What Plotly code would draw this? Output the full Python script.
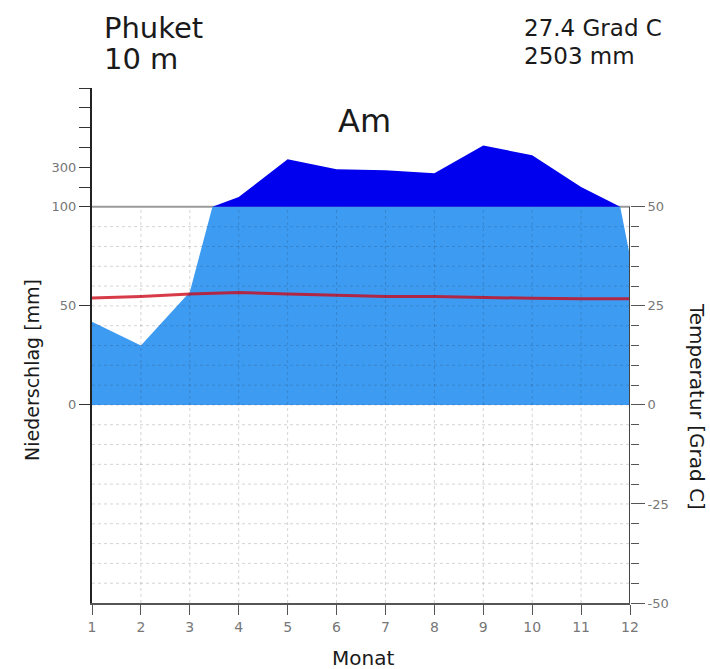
import plotly.graph_objects as go

# ---- data ----
months = [1, 2, 3, 4, 5, 6, 7, 8, 9, 10, 11, 12]
precip_mm = [42, 30, 57, 150, 340, 290, 285, 270, 410, 360, 200, 75]
temp_c = [27.0, 27.4, 28.0, 28.4, 28.0, 27.7, 27.4, 27.4, 27.1, 26.9, 26.8, 26.8]
station = "Phuket"
elevation = "10 m"
mean_temp_label = "27.4 Grad C"
total_precip_label = "2503 mm"
climate_class = "Am"
left_tick_mm = [0, 50, 100, 200, 300, 400, 500, 600, 700]
left_tick_text = ["0", "50", "100", "", "300", "", "", "", ""]
right_tick_c = [-50, -25, 0, 25, 50]
right_tick_text = ["-50", "-25", "0", "25", "50"]

FONT = "DejaVu Sans"
W, H = 710, 669
L, R, T, B = 92, 80, 88, 66


def disp(p):
    """Walter-Lieth scale: linear to 100 mm, compressed 1:10 above."""
    return p if p <= 100 else 100 + (p - 100) / 10.0


# precipitation outline: insert exact 100 mm crossings so both scale parts stay linear
xs, ps = [months[0]], [precip_mm[0]]
for i in range(len(months) - 1):
    x0, x1, p0, p1 = months[i], months[i + 1], precip_mm[i], precip_mm[i + 1]
    if (p0 - 100) * (p1 - 100) < 0:
        f = (100 - p0) / (p1 - p0)
        xs.append(x0 + f * (x1 - x0))
        ps.append(100)
    xs.append(x1)
    ps.append(p1)
ds = [disp(p) for p in ps]
light = [min(d, 100) for d in ds]
dark = [max(d, 100) for d in ds]

fig = go.Figure()
fig.add_trace(go.Scatter(x=xs, y=light, mode="lines", line=dict(width=0),
                         fill="tozeroy", fillcolor="#3d9cf2", hoverinfo="skip"))
fig.add_trace(go.Scatter(x=xs, y=[100] * len(xs), mode="lines", line=dict(width=0),
                         hoverinfo="skip"))
fig.add_trace(go.Scatter(x=xs, y=dark, mode="lines", line=dict(width=0),
                         fill="tonexty", fillcolor="#0000ee", hoverinfo="skip"))
fig.add_trace(go.Scatter(x=months, y=temp_c, mode="lines", yaxis="y2",
                         line=dict(color="rgba(205,10,25,0.8)", width=3)))

shapes = []
GRID = "rgba(40,40,60,0.2)"
# dotted grid (below the 100 mm line only)
for c in range(-45, 50, 5):
    shapes.append(dict(type="line", xref="x", yref="y2", x0=1, x1=12, y0=c, y1=c,
                       line=dict(color=GRID, width=1, dash="dot"), layer="above"))
for m in months[1:-1]:
    shapes.append(dict(type="line", xref="x", yref="y2", x0=m, x1=m, y0=-50, y1=50,
                       line=dict(color=GRID, width=1, dash="dot"), layer="above"))
# 100 mm line
shapes.append(dict(type="line", xref="x", yref="y", x0=1, x1=12, y0=100, y1=100,
                   line=dict(color="#9a9a9a", width=2), layer="below"))
# right axis line
shapes.append(dict(type="line", xref="x", yref="y2", x0=12, x1=12, y0=-50, y1=50,
                   line=dict(color="#444", width=2), layer="above"))


def pxx(x):
    return (x - L) / (W - L - R)


def pyy(y):
    return (H - B - y) / (H - T - B)


ann = []


def txt(s, x, y, size, xanchor="left", angle=0):
    ann.append(dict(text=s, x=pxx(x), y=pyy(y), xref="paper", yref="paper",
                    xanchor=xanchor, yanchor="middle", showarrow=False,
                    textangle=angle, font=dict(family=FONT, size=size, color="#1a1a1a")))


txt(station, 102, 28, 29)
txt(elevation, 102, 59, 29)
txt(mean_temp_label, 522, 28, 23)
txt(total_precip_label, 522, 56, 23)
txt(climate_class, 364, 121, 32, xanchor="center")
txt("Monat", 363, 658, 20, xanchor="center")
txt("Niederschlag [mm]", 32, 370, 19, xanchor="center", angle=-90)
txt("Temperatur [Grad C]", 697, 406, 20, xanchor="center", angle=90)

fig.update_layout(
    width=W, height=H, margin=dict(l=L, r=R, t=T, b=B),
    paper_bgcolor="white", plot_bgcolor="white", showlegend=False,
    shapes=shapes, annotations=ann,
    xaxis=dict(range=[1, 12], tickvals=months, ticktext=[str(m) for m in months],
               ticks="outside", ticklen=10, tickcolor="#555", tickwidth=1,
               showline=True, linecolor="#555", linewidth=2, showgrid=False,
               zeroline=False, tickfont=dict(family=FONT, size=14, color="#777")),
    yaxis=dict(range=[-100, 160], tickvals=[disp(v) for v in left_tick_mm],
               ticktext=left_tick_text, ticks="outside", ticklen=11,
               tickcolor="#333", tickwidth=1, showline=True, linecolor="#222",
               linewidth=2, showgrid=False, zeroline=False,
               tickfont=dict(family=FONT, size=13, color="#777")),
    yaxis2=dict(range=[-50, 80], overlaying="y", side="right",
                tickvals=right_tick_c, ticktext=right_tick_text, ticks="outside",
                ticklen=14, tickcolor="#555", tickwidth=1, showline=False,
                showgrid=False, zeroline=False,
                minor=dict(tickvals=[v for v in range(-45, 50, 5) if v % 25 != 0],
                           ticks="outside", ticklen=8, tickcolor="#555"),
                tickfont=dict(family=FONT, size=13, color="#777")),
)

fig.write_html("out.html")
